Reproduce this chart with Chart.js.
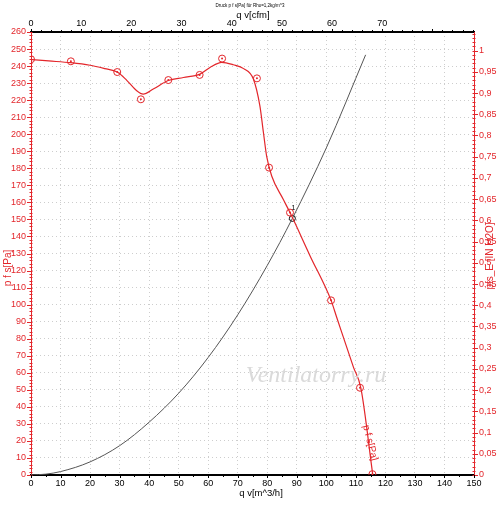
<!DOCTYPE html>
<html>
<head>
<meta charset="utf-8">
<script src="https://cdn.jsdelivr.net/npm/chart.js@4.4.1/dist/chart.umd.min.js"></script>
<style>
  html, body { margin: 0; padding: 0; background: #fff; }
  #fanChart { display: block; }
</style>
</head>
<body>
<canvas id="fanChart" width="500" height="506"></canvas>
<script>
// fan curve p f s [Pa] over qv [m^3/h]
const curveQ = [0, 6, 13.5, 20, 25, 29.2, 32.5, 35.8, 38, 41.4, 46.5, 51.6, 57.2, 60.6, 64.6, 68.5, 72, 75.3, 77.5, 78.7, 79.8, 81.5, 85.4, 87.7, 94.5, 101.6, 103.5, 109.2, 111.7, 115.7];
const curveP = [243.8, 243, 242, 240.5, 238.5, 236.5, 231.5, 225.5, 223.5, 226.5, 231.5, 233.3, 235.3, 239.2, 242.2, 240.8, 238.5, 232.4, 216.6, 201, 187, 175.5, 161.8, 154, 128.6, 102.5, 92.6, 63.2, 51, 0.4];

// measured points (circle markers)
const markQ = [0, 13.5, 29.2, 37.2, 46.5, 57.1, 64.7, 76.5, 80.6, 87.7, 101.6, 111.4, 115.6];
const markP = [244, 242.8, 236.5, 220.5, 231.8, 234.8, 244.4, 232.8, 180.4, 154, 102.5, 51.2, 0.5];

// system curve
const sysQ = [0, 5, 10, 20, 30, 40, 50, 60, 70, 80, 88.5, 100, 113.3];
const sysP = [0, 0.5, 2, 7.7, 17.2, 31, 48, 69, 94, 123, 150.6, 192, 246.6];

// operating point
const opQ = [88.5];
const opP = [150.6];
const opLabel = "1";

const M3H_PER_CFM = 1.69901;
const PA_PER_INH2O = 249.089;
const qMax = 150;
const pMax = 260;

const red = "#e3262b";
const grey = "#cdcdcd";

function pts(xs, ys) {
  return xs.map((x, i) => ({ x: x, y: ys[i] }));
}

function keepSteps(step) {
  return function (scale) {
    scale.ticks = scale.ticks.filter(t => {
      const r = t.value / step;
      return Math.abs(r - Math.round(r)) < 1e-6;
    });
  };
}

function fixSize(prop, size) {
  return function (scale) { scale[prop] = size; };
}

Chart.defaults.font.family = '"Liberation Sans", Arial, sans-serif';
Chart.defaults.font.size = 9;

const extras = {
  id: "extras",
  afterDraw(chart) {
    const ctx = chart.ctx;
    const sx = chart.scales.x, sy = chart.scales.y;
    const sx2 = chart.scales.x2, sy2 = chart.scales.y2;
    const a = chart.chartArea;
    ctx.save();

    // minor / major ticks
    ctx.lineWidth = 1;
    ctx.strokeStyle = red;
    ctx.beginPath();
    for (let v = 0; v <= pMax; v += 2) {
      const y = Math.round(sy.getPixelForValue(v)) + 0.5;
      const major = v % 10 === 0;
      ctx.moveTo(a.left - (major ? 4 : 1.5), y);
      ctx.lineTo(a.left + 1.5, y);
    }
    const inMax = pMax / PA_PER_INH2O;
    for (let i = 0; i / 100 <= inMax; i++) {
      const y = Math.round(sy2.getPixelForValue(i / 100)) + 0.5;
      const major = i % 5 === 0;
      ctx.moveTo(a.right - 1.5, y);
      ctx.lineTo(a.right + (major ? 4 : 1.5), y);
    }
    ctx.stroke();

    ctx.strokeStyle = "#000";
    ctx.beginPath();
    for (let v = 0; v <= qMax; v += 5) {
      const x = Math.round(sx.getPixelForValue(v)) + 0.5;
      ctx.moveTo(x, a.bottom);
      ctx.lineTo(x, a.bottom + (v % 10 === 0 ? 3 : 2));
    }
    for (let v = 0; v <= qMax / M3H_PER_CFM; v += 2) {
      const x = Math.round(sx2.getPixelForValue(v)) + 0.5;
      ctx.moveTo(x, a.top);
      ctx.lineTo(x, a.top - (v % 10 === 0 ? 3 : 2));
    }
    ctx.stroke();

    // titles
    ctx.fillStyle = "#000";
    ctx.textAlign = "center";
    ctx.textBaseline = "middle";
    ctx.font = '4.5px "Liberation Sans", Arial, sans-serif';
    ctx.fillText("Druck p f s[Pa] für Rho=1,2kg/m^3", 250, 6);
    ctx.font = '9.5px "Liberation Sans", Arial, sans-serif';
    ctx.fillText("q v[cfm]", 253, 15);
    ctx.fillText("q v[m^3/h]", 261, 493);

    ctx.fillStyle = red;
    ctx.font = '10px "Liberation Sans", Arial, sans-serif';
    ctx.save();
    ctx.translate(8, 268);
    ctx.rotate(-Math.PI / 2);
    ctx.fillText("p f s[Pa]", 0, 0);
    ctx.restore();

    ctx.save();
    ctx.translate(490, 256);
    ctx.rotate(-Math.PI / 2);
    ctx.fillText("pfs_E [IN H2O]", 0, 0);
    ctx.restore();

    // label along the fan curve, near its end
    const i0 = curveQ.length - 3;
    const lx = (sx.getPixelForValue(curveQ[i0]) + sx.getPixelForValue(curveQ[curveQ.length - 1])) / 2;
    const ly = (sy.getPixelForValue(curveP[i0]) + sy.getPixelForValue(curveP[curveP.length - 1])) / 2;
    ctx.save();
    ctx.translate(lx + 7, ly + 22);
    ctx.rotate(76 * Math.PI / 180);
    ctx.fillText("p f s[Pa]", 0, 0);
    ctx.restore();

    // operating point number
    ctx.fillStyle = "#000";
    ctx.font = '7px "Liberation Sans", Arial, sans-serif';
    ctx.fillText(opLabel, sx.getPixelForValue(opQ[0]) + 1, sy.getPixelForValue(opP[0]) - 10);

    // watermark
    ctx.fillStyle = "#dadada";
    ctx.font = 'italic 24px "Liberation Serif", "DejaVu Serif", serif';
    ctx.fillText("Ventilatorry.ru", 316, 376);

    ctx.restore();
  }
};

new Chart(document.getElementById("fanChart").getContext("2d"), {
  type: "line",
  data: {
    datasets: [
      {
        label: "p f s[Pa]",
        data: pts(curveQ, curveP),
        borderColor: red,
        borderWidth: 1.2,
        pointRadius: 0,
        cubicInterpolationMode: "monotone",
        xAxisID: "x",
        yAxisID: "y",
      },
      {
        label: "system",
        data: pts(sysQ, sysP),
        borderColor: "#555",
        borderWidth: 1,
        pointRadius: 0,
        cubicInterpolationMode: "monotone",
        xAxisID: "x",
        yAxisID: "y",
      },
      {
        label: "points",
        data: pts(markQ, markP),
        showLine: false,
        pointRadius: 3.5,
        pointBorderWidth: 1,
        pointBorderColor: red,
        pointBackgroundColor: "rgba(0,0,0,0)",
        xAxisID: "x",
        yAxisID: "y",
      },
      {
        label: "points centre",
        data: pts(markQ, markP),
        showLine: false,
        pointRadius: 1,
        pointBorderWidth: 0,
        pointBackgroundColor: red,
        xAxisID: "x",
        yAxisID: "y",
      },
      {
        label: "operating point",
        data: pts(opQ, opP),
        showLine: false,
        pointRadius: 3,
        pointBorderWidth: 1,
        pointBorderColor: "#000",
        pointBackgroundColor: "#fff",
        xAxisID: "x",
        yAxisID: "y",
      },
    ],
  },
  options: {
    responsive: false,
    animation: false,
    devicePixelRatio: 1,
    layout: { padding: 0 },
    plugins: { legend: { display: false }, tooltip: { enabled: false } },
    scales: {
      x: {
        type: "linear",
        position: "bottom",
        min: 0,
        max: qMax,
        afterFit: fixSize("height", 31),
        ticks: { stepSize: 10, color: "#000", padding: 3, maxRotation: 0 },
        grid: { color: grey, drawTicks: false, lineWidth: 1 },
        border: { color: "#000", width: 2, dash: [1, 3] },
      },
      x2: {
        type: "linear",
        position: "top",
        min: 0,
        max: qMax / M3H_PER_CFM,
        afterFit: fixSize("height", 32),
        afterBuildTicks: keepSteps(10),
        ticks: { stepSize: 10, color: "#000", padding: 3, maxRotation: 0 },
        grid: { drawOnChartArea: false, drawTicks: false },
        border: { color: "#000", width: 2 },
      },
      y: {
        type: "linear",
        position: "left",
        min: 0,
        max: pMax,
        afterFit: fixSize("width", 31),
        ticks: { stepSize: 10, color: red, padding: 5 },
        grid: { color: grey, drawTicks: false, lineWidth: 1 },
        border: { color: red, width: 1, dash: [1, 3] },
      },
      y2: {
        type: "linear",
        position: "right",
        min: 0,
        max: pMax / PA_PER_INH2O,
        afterFit: fixSize("width", 26),
        afterBuildTicks: keepSteps(0.05),
        ticks: {
          stepSize: 0.05,
          color: red,
          padding: 5,
          callback: v => String(Math.round(v * 100) / 100).replace(".", ","),
        },
        grid: { drawOnChartArea: false, drawTicks: false },
        border: { color: red, width: 1 },
      },
    },
  },
  plugins: [extras],
});
</script>
</body>
</html>
